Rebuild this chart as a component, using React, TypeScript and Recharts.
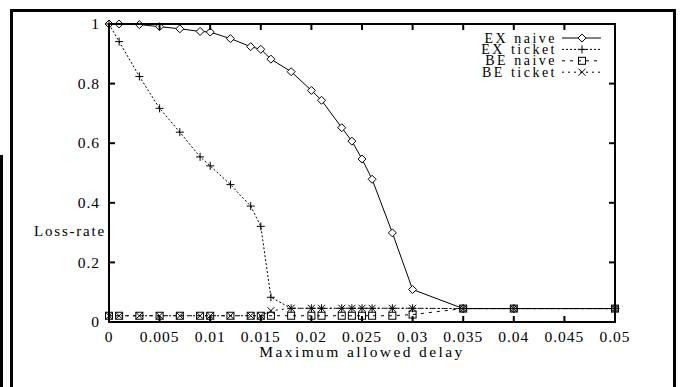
import React from 'react';
import { LineChart, Line, XAxis, YAxis, Legend } from 'recharts';

// maximum allowed delay (x) shared by all four series
const delays = [0, 0.001, 0.003, 0.005, 0.007, 0.009, 0.01, 0.012, 0.014, 0.015, 0.016, 0.018, 0.02, 0.021, 0.023, 0.024, 0.025, 0.026, 0.028, 0.03, 0.035, 0.04, 0.05];

const exNaive = [1, 1, 0.998, 0.991, 0.984, 0.975, 0.973, 0.951, 0.924, 0.915, 0.882, 0.84, 0.777, 0.744, 0.652, 0.607, 0.547, 0.479, 0.299, 0.109, 0.045, 0.045, 0.045];
const exTicket = [1, 0.941, 0.824, 0.717, 0.637, 0.554, 0.524, 0.461, 0.389, 0.321, 0.083, 0.046, 0.046, 0.046, 0.046, 0.046, 0.046, 0.046, 0.046, 0.046, 0.045, 0.045, 0.045];
const beNaive = [0.021, 0.021, 0.021, 0.021, 0.021, 0.021, 0.021, 0.021, 0.021, 0.021, 0.021, 0.021, 0.021, 0.021, 0.021, 0.021, 0.021, 0.021, 0.021, 0.025, 0.045, 0.045, 0.045];
const beTicket = [0.021, 0.021, 0.021, 0.021, 0.021, 0.021, 0.021, 0.021, 0.021, 0.021, 0.038, 0.046, 0.046, 0.046, 0.046, 0.046, 0.046, 0.046, 0.046, 0.046, 0.045, 0.045, 0.045];

const xTicks = [0, 0.005, 0.01, 0.015, 0.02, 0.025, 0.03, 0.035, 0.04, 0.045, 0.05];
const yTicks = [0, 0.2, 0.4, 0.6, 0.8, 1];

const rows = delays.map((d, i) => ({
  delay: d,
  exNaive: exNaive[i],
  exTicket: exTicket[i],
  beNaive: beNaive[i],
  beTicket: beTicket[i],
}));

const FONT = '"Liberation Serif", "DejaVu Serif", serif';
const AXIS = '#000';
const lineStyle = { stroke: AXIS, strokeWidth: 2 };

// plot box in pixels, must agree with the chart margins below
const PLOT_LEFT = 109;
const PLOT_TOP = 24;
const PLOT_RIGHT = 615;
const PLOT_BOTTOM = 322;

type MarkerKind = 'diamond' | 'plus' | 'square' | 'cross';

const series: { key: string; name: string; dash?: string; marker: MarkerKind }[] = [
  { key: 'exNaive', name: 'EX naive', marker: 'diamond' },
  { key: 'exTicket', name: 'EX ticket', dash: '2 2', marker: 'plus' },
  { key: 'beNaive', name: 'BE naive', dash: '3 5', marker: 'square' },
  { key: 'beTicket', name: 'BE ticket', dash: '2 4', marker: 'cross' },
];

const Marker = ({ kind, cx, cy }: { kind: MarkerKind; cx: number; cy: number }) => {
  const s = { stroke: '#000', strokeWidth: 1, fill: 'none' };
  if (kind === 'diamond') {
    return <path d={`M${cx},${cy - 4}L${cx + 4},${cy}L${cx},${cy + 4}L${cx - 4},${cy}Z`} {...s} fill="#fff" />;
  }
  if (kind === 'plus') {
    return <path d={`M${cx - 4},${cy}H${cx + 4}M${cx},${cy - 4}V${cy + 4}`} {...s} />;
  }
  if (kind === 'square') {
    return <rect x={cx - 3.5} y={cy - 3.5} width={7} height={7} {...s} />;
  }
  return <path d={`M${cx - 3.5},${cy - 3.5}L${cx + 3.5},${cy + 3.5}M${cx + 3.5},${cy - 3.5}L${cx - 3.5},${cy + 3.5}`} {...s} />;
};

const fmt = (v: number) => String(v);

// label below the axis plus the mirrored tick on the top border
const BottomTick = (props: any) => {
  const { x, y, payload } = props;
  return (
    <g>
      <path d={`M${x},${PLOT_TOP}v6`} stroke={AXIS} strokeWidth={2} fill="none" />
      <text x={x} y={y} dy="0.75em" textAnchor="middle" fontFamily={FONT} fontSize={15.5} letterSpacing={1} fill="#000">
        {fmt(payload.value)}
      </text>
    </g>
  );
};

// label left of the axis plus the mirrored tick on the right border
const LeftTick = (props: any) => {
  const { x, y, payload } = props;
  return (
    <g>
      <path d={`M${PLOT_RIGHT},${y}h-6`} stroke={AXIS} strokeWidth={2} fill="none" />
      <text x={x} y={y} dy="0.33em" textAnchor="end" fontFamily={FONT} fontSize={15.5} letterSpacing={1} fill="#000">
        {fmt(payload.value)}
      </text>
    </g>
  );
};

const renderLegend = () => (
  <svg width={140} height={50} style={{ display: 'block' }}>
    {series.map((s, i) => {
      const cy = 8 + i * 11.4;
      return (
        <g key={s.key}>
          <text x={87} y={cy} dy="0.33em" textAnchor="end" fontFamily={FONT} fontSize={14} letterSpacing={2.5} fill="#000">
            {s.name}
          </text>
          <line x1={92} x2={131} y1={cy} y2={cy} stroke="#000" strokeDasharray={s.dash} />
          <Marker kind={s.marker} cx={112} cy={cy} />
        </g>
      );
    })}
  </svg>
);

const YTitle = (props: any) => {
  const { viewBox } = props;
  return (
    <text x={viewBox.x + viewBox.width - 3} y={231} dy="0.33em" textAnchor="end" fontFamily={FONT} fontSize={15} letterSpacing={1.8} fill="#000">
      Loss-rate
    </text>
  );
};

const XTitle = (props: any) => {
  const { viewBox } = props;
  return (
    <text x={viewBox.x + viewBox.width / 2} y={352} dy="0.33em" textAnchor="middle" fontFamily={FONT} fontSize={15.5} letterSpacing={2.4} fill="#000">
      Maximum allowed delay
    </text>
  );
};

export default function App() {
  return (
    <div style={{ position: 'absolute', left: 0, top: 0, width: 683, height: 387, overflow: 'hidden', background: '#fff' }}>
      {/* page frame around the figure */}
      <div style={{ position: 'absolute', left: 10, top: 9, width: 666, height: 420, border: '3px solid #000', boxSizing: 'border-box' }} />
      <div style={{ position: 'absolute', left: 0, top: 155, width: 3, height: 232, background: '#000' }} />
      <LineChart
        width={683}
        height={387}
        data={rows}
        margin={{ top: PLOT_TOP, right: 683 - PLOT_RIGHT, bottom: 35, left: 49 }}
        style={{ position: 'absolute', left: 0, top: 0 }}
      >
        <XAxis
          dataKey="delay"
          type="number"
          domain={[0, 0.05]}
          ticks={xTicks}
          interval={0}
          height={30}
          tickSize={-6}
          tickMargin={14}
          stroke={AXIS}
          axisLine={lineStyle}
          tickLine={lineStyle}
          tick={<BottomTick />}
          label={<XTitle />}
        />
        <YAxis
          type="number"
          domain={[0, 1]}
          ticks={yTicks}
          interval={0}
          width={60}
          tickSize={-6}
          tickMargin={15}
          stroke={AXIS}
          axisLine={lineStyle}
          tickLine={lineStyle}
          tick={<LeftTick />}
          label={<YTitle />}
        />
        <Legend
          layout="horizontal"
          verticalAlign="middle"
          align="center"
          content={renderLegend}
          wrapperStyle={{ position: 'absolute', left: 470, top: 30, width: 140, height: 50 }}
        />
        {series.map((s) => (
          <Line
            key={s.key}
            type="linear"
            dataKey={s.key}
            name={s.name}
            stroke="#000"
            strokeWidth={1}
            strokeDasharray={s.dash}
            isAnimationActive={false}
            dot={(p: any) => <Marker key={`${s.key}-${p.index}`} kind={s.marker} cx={p.cx} cy={p.cy} />}
            activeDot={false}
          />
        ))}
      </LineChart>
      {/* border around the plot area, on top of the chart */}
      <div
        style={{
          position: 'absolute',
          left: PLOT_LEFT - 1,
          top: PLOT_TOP - 1,
          width: PLOT_RIGHT - PLOT_LEFT + 2,
          height: PLOT_BOTTOM - PLOT_TOP + 2,
          border: '2px solid #000',
          boxSizing: 'border-box',
          pointerEvents: 'none',
        }}
      />
    </div>
  );
}
